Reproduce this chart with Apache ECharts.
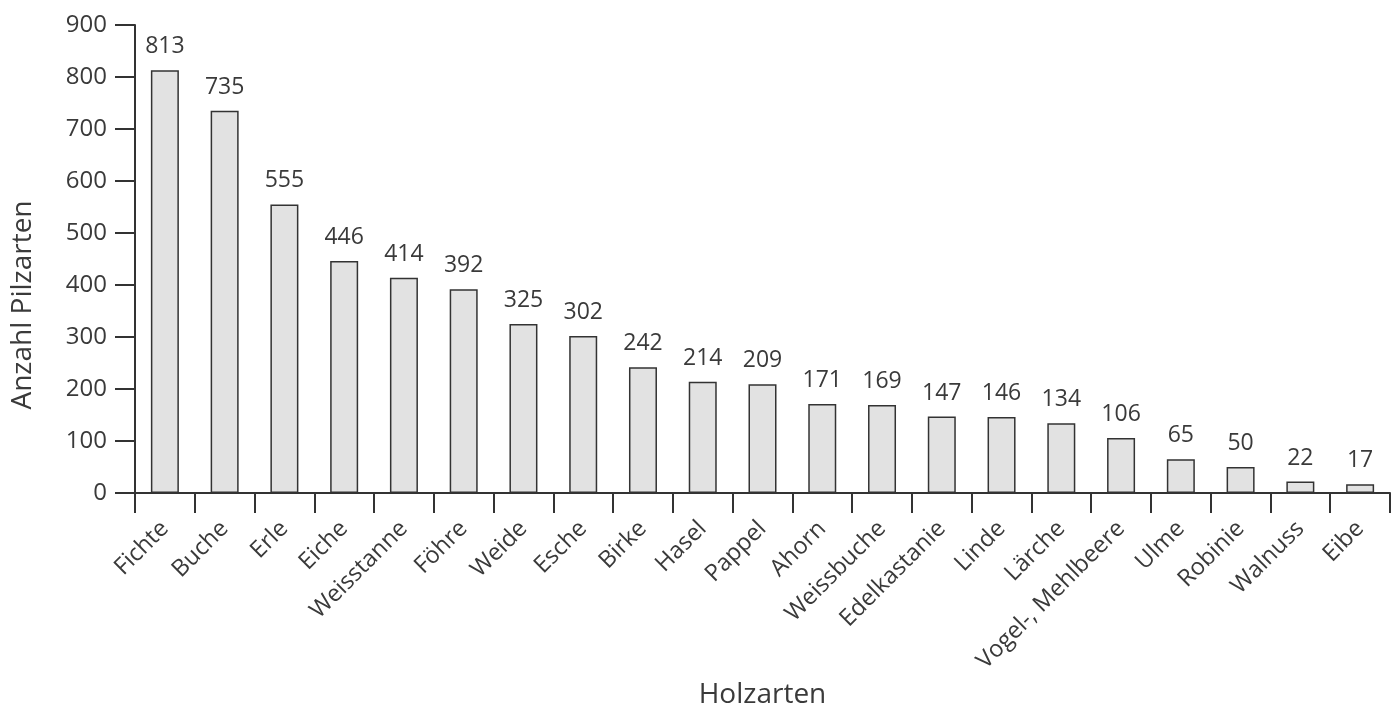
<!DOCTYPE html>
<html><head><meta charset="utf-8">
<script src="https://cdn.jsdelivr.net/npm/echarts@6/dist/echarts.min.js"></script>
<style>html,body{margin:0;padding:0;background:#fff}#c{width:1400px;height:709px}</style>
</head><body><div id="c"></div>
<script>
const categories = ["Fichte","Buche","Erle","Eiche","Weisstanne","Föhre","Weide","Esche","Birke","Hasel","Pappel","Ahorn","Weissbuche","Edelkastanie","Linde","Lärche","Vogel-, Mehlbeere","Ulme","Robinie","Walnuss","Eibe"];
const values = [813,735,555,446,414,392,325,302,242,214,209,171,169,147,146,134,106,65,50,22,17];
const yTicks = {min:0, max:900, interval:100};
const FONT = '"Open Sans", sans-serif';
const TXT = '#3a3a3a';
const chart = echarts.init(document.getElementById('c'));
chart.setOption({
  animation:false,
  grid:{left:135, right:10, top:25, bottom:216, containLabel:false, outerBoundsMode:'none'},
  graphic:[{
    type:'text', x:23, y:305, rotation:Math.PI/2,
    style:{text:'Anzahl Pilzarten', fontFamily:FONT, fontSize:28, fill:TXT, align:'center', verticalAlign:'middle'}
  }],
  xAxis:{
    type:'category', data:categories,
    name:'Holzarten', nameLocation:'middle', nameGap:180,
    nameTextStyle:{fontFamily:FONT, fontSize:28, color:TXT},
    axisLine:{lineStyle:{color:'#333', width:2}},
    axisTick:{show:true, length:20, alignWithLabel:false, lineStyle:{color:'#333', width:2}},
    axisLabel:{rotate:45, interval:0, margin:32, fontFamily:FONT, fontSize:23.5, color:TXT}
  },
  yAxis:{
    type:'value', min:yTicks.min, max:yTicks.max, interval:yTicks.interval,
    axisLine:{show:true, lineStyle:{color:'#333', width:2}},
    axisTick:{show:true, length:20, lineStyle:{color:'#333', width:2}},
    splitLine:{show:false},
    axisLabel:{margin:28, fontFamily:FONT, fontSize:24, color:TXT}
  },
  series:[{
    type:'bar', data:values, barWidth:28,
    itemStyle:{color:'#e2e2e2', borderColor:'#333', borderWidth:1.5},
    label:{show:true, position:'top', distance:12, fontFamily:FONT, fontSize:23, color:TXT}
  }]
});
</script></body></html>
